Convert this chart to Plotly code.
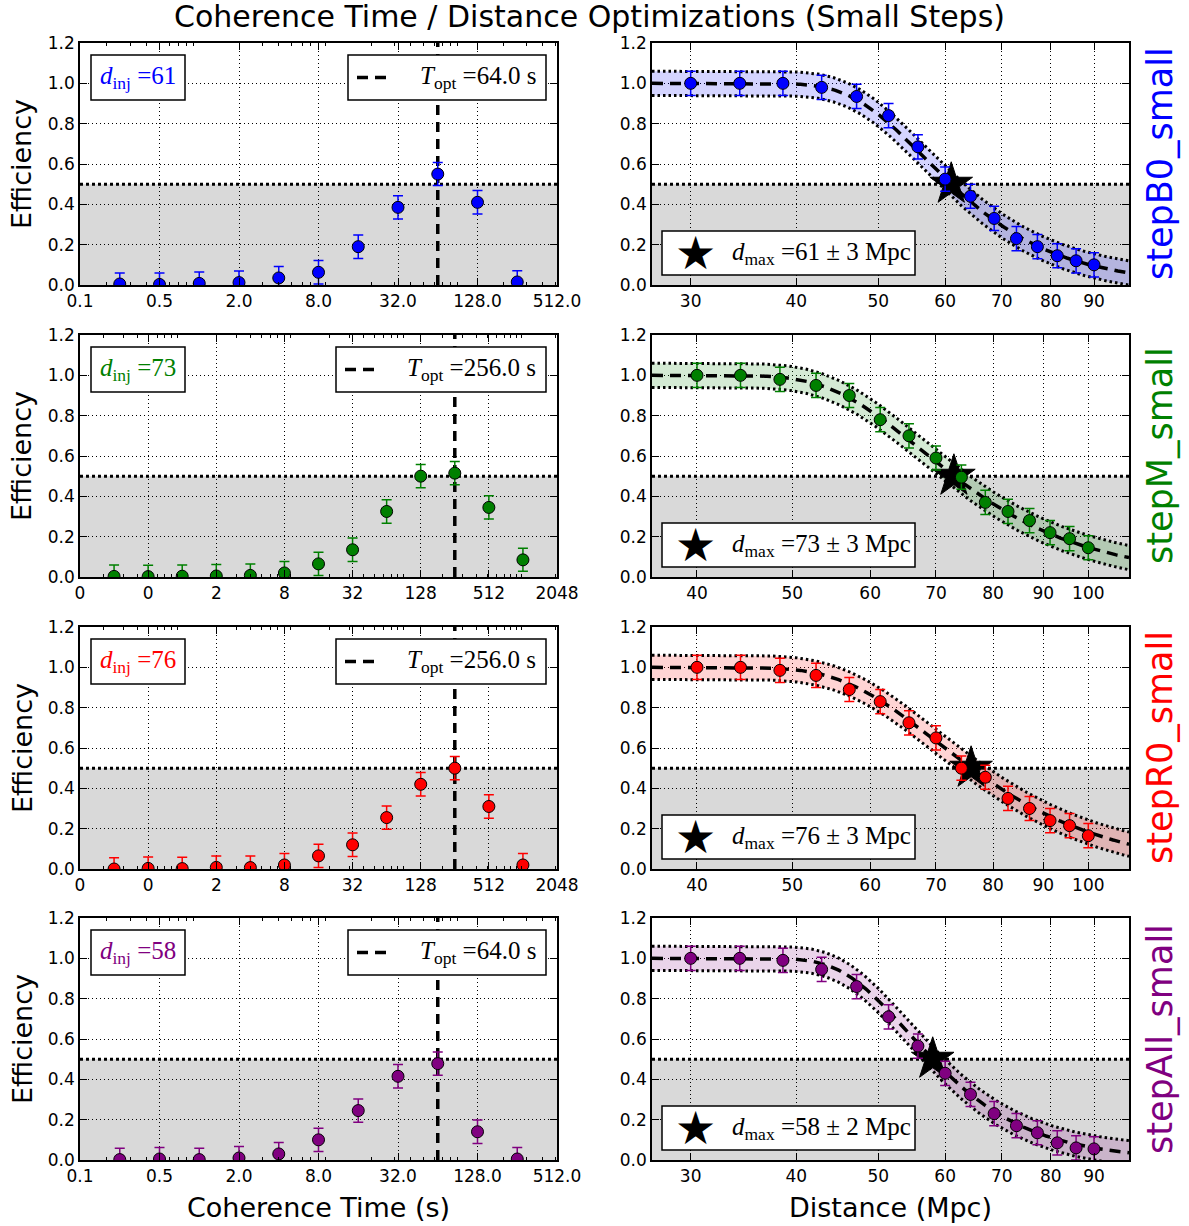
import numpy as np
import plotly.graph_objects as go

# ---------------- data ----------------
run_names = ["stepB0_small", "stepM_small", "stepR0_small", "stepAll_small"]
run_colors = ["#0000ff", "#008000", "#ff0000", "#800080"]

coh_times_short = [0.25, 0.5, 1, 2, 4, 8, 16, 32, 64, 128, 256]
coh_times_long = [0.25, 0.5, 1, 2, 4, 8, 16, 32, 64, 128, 256, 512, 1024]

eff_coh_B0 = [0.005, 0.003, 0.008, 0.012, 0.035, 0.063, 0.19, 0.385, 0.55, 0.41, 0.015]
err_coh_B0 = [0.055, 0.056, 0.056, 0.057, 0.057, 0.058, 0.058, 0.058, 0.057, 0.058, 0.056]
eff_coh_M = [0.003, 0.002, 0.004, 0.005, 0.008, 0.02, 0.065, 0.135, 0.325, 0.50, 0.515, 0.345, 0.085]
err_coh_M = [0.056, 0.056, 0.056, 0.057, 0.057, 0.057, 0.058, 0.058, 0.058, 0.058, 0.058, 0.058, 0.057]
eff_coh_R0 = [0.0, 0.003, 0.002, 0.008, 0.007, 0.02, 0.065, 0.12, 0.255, 0.42, 0.50, 0.31, 0.02]
err_coh_R0 = [0.056, 0.056, 0.056, 0.057, 0.057, 0.057, 0.058, 0.058, 0.058, 0.058, 0.058, 0.058, 0.057]
eff_coh_All = [0.002, 0.005, 0.002, 0.01, 0.03, 0.10, 0.245, 0.415, 0.478, 0.14, 0.005]
err_coh_All = [0.056, 0.057, 0.056, 0.057, 0.057, 0.058, 0.058, 0.058, 0.058, 0.058, 0.057]

coh_tick_vals_short = [0.125, 0.5, 2, 8, 32, 128, 512]
coh_tick_text_short = ["0.1", "0.5", "2.0", "8.0", "32.0", "128.0", "512.0"]
coh_tick_vals_long = [0.125, 0.5, 2, 8, 32, 128, 512, 2048]
coh_tick_text_long = ["0", "0", "2", "8", "32", "128", "512", "2048"]
coh_minor_ticks = [0.2, 0.3, 0.4, 0.6, 0.7, 0.8, 0.9, 3, 4, 5, 6, 7, 9,
                   20, 30, 40, 50, 60, 70, 80, 90, 200, 300, 400, 500, 600, 700, 800, 900,
                   1000, 2000]

t_opt = [64.0, 256.0, 256.0, 64.0]
d_inj = [61, 73, 76, 58]

dist_30_90 = [30.0, 34.29, 38.57, 42.86, 47.14, 51.43, 55.71, 60.0, 64.29, 68.57, 72.86, 77.14, 81.43, 85.71, 90.0]
dist_40_100 = [40.0, 44.29, 48.57, 52.86, 57.14, 61.43, 65.71, 70.0, 74.29, 78.57, 82.86, 87.14, 91.43, 95.71, 100.0]

eff_dist_B0 = [1.0, 1.0, 1.0, 0.98, 0.935, 0.84, 0.685, 0.525, 0.44, 0.33, 0.23, 0.19, 0.145, 0.12, 0.10]
eff_dist_M = [1.0, 1.0, 0.98, 0.95, 0.90, 0.78, 0.70, 0.59, 0.495, 0.37, 0.325, 0.28, 0.22, 0.19, 0.145]
eff_dist_R0 = [1.0, 1.0, 0.985, 0.96, 0.89, 0.83, 0.725, 0.65, 0.50, 0.455, 0.35, 0.30, 0.24, 0.215, 0.165]
eff_dist_All = [1.0, 1.0, 0.99, 0.945, 0.86, 0.71, 0.565, 0.43, 0.325, 0.23, 0.17, 0.135, 0.085, 0.06, 0.055]
err_dist = [0.06, 0.06, 0.06, 0.06, 0.06, 0.06, 0.06, 0.06, 0.06, 0.06, 0.06, 0.06, 0.06, 0.06, 0.06]

dist_ticks_30_90 = [30, 40, 50, 60, 70, 80, 90]
dist_ticks_40_100 = [40, 50, 60, 70, 80, 90, 100]

d_max = [61, 73, 76, 58]
d_max_err = [3, 3, 3, 2]
fit_slope = [5.0, 4.7, 4.5, 5.5]
fit_band = 0.06

coh_x = [coh_times_short, coh_times_long, coh_times_long, coh_times_short]
coh_eff = [eff_coh_B0, eff_coh_M, eff_coh_R0, eff_coh_All]
coh_err = [err_coh_B0, err_coh_M, err_coh_R0, err_coh_All]
coh_tv = [coh_tick_vals_short, coh_tick_vals_long, coh_tick_vals_long, coh_tick_vals_short]
coh_tt = [coh_tick_text_short, coh_tick_text_long, coh_tick_text_long, coh_tick_text_short]
dist_x = [dist_30_90, dist_40_100, dist_40_100, dist_30_90]
dist_eff = [eff_dist_B0, eff_dist_M, eff_dist_R0, eff_dist_All]
dist_tv = [dist_ticks_30_90, dist_ticks_40_100, dist_ticks_40_100, dist_ticks_30_90]

# ---------------- layout geometry ----------------
W, H = 1189, 1226
L_X0, L_X1 = 80, 557
R_X0, R_X1 = 652, 1129
PW = 477
ROW_TOP = [43, 335, 627, 918]
ROW_H = 242

SANS = "DejaVu Sans"
SERIF = "Liberation Serif"


def PX(x):
    return x / W


def PY(y):
    return 1 - y / H


def rgba(hexcol, a):
    h = hexcol.lstrip("#")
    return "rgba(%d,%d,%d,%s)" % (int(h[0:2], 16), int(h[2:4], 16), int(h[4:6], 16), a)


fig = go.Figure()
layout = dict(
    width=W, height=H, margin=dict(l=0, r=0, t=0, b=0, pad=0, autoexpand=False),
    paper_bgcolor="white", plot_bgcolor="white", showlegend=False,
)
shapes = []
annotations = []

axis_common = dict(
    showline=True, linecolor="black", linewidth=1.5, mirror="allticks",
    ticks="inside", ticklen=7, tickwidth=1, tickcolor="black",
    showgrid=True, gridcolor="black", gridwidth=1, griddash="1px,3px",
    zeroline=False, automargin=False,
    tickfont=dict(family=SANS, size=17, color="black"),
)

for r in range(4):
    col = run_colors[r]
    top = ROW_TOP[r]
    bot = top + ROW_H
    ydom = [PY(bot), PY(top)]
    li, ri = 2 * r + 1, 2 * r + 2
    lx, ly = ("x", "y") if li == 1 else ("x%d" % li, "y%d" % li)
    rx, ry = "x%d" % ri, "y%d" % ri
    lkx = "xaxis" if li == 1 else "xaxis%d" % li
    lky = "yaxis" if li == 1 else "yaxis%d" % li
    rkx, rky = "xaxis%d" % ri, "yaxis%d" % ri

    # ---- left (coherence time) axes ----
    cmax = coh_tv[r][-1]
    layout[lkx] = dict(axis_common, type="log", domain=[PX(L_X0), PX(L_X1)], anchor=ly,
                       range=[np.log10(0.125), np.log10(cmax)],
                       tickvals=coh_tv[r], ticktext=coh_tt[r],
                       minor=dict(tickvals=[v for v in coh_minor_ticks if v < cmax],
                                  ticks="inside", ticklen=3.5, tickwidth=1,
                                  tickcolor="black", showgrid=False))
    layout[lky] = dict(axis_common, domain=ydom, anchor=lx, range=[0, 1.2],
                       tickvals=[0, 0.2, 0.4, 0.6, 0.8, 1.0, 1.2],
                       ticktext=["0.0", "0.2", "0.4", "0.6", "0.8", "1.0", "1.2"])
    # ---- right (distance) axes ----
    dmin_ax = dist_x[r][0] * 0.9
    dmax_ax = dist_x[r][-1] * 1.1
    layout[rkx] = dict(axis_common, type="log", domain=[PX(R_X0), PX(R_X1)], anchor=ry,
                       range=[np.log10(dmin_ax), np.log10(dmax_ax)],
                       tickvals=dist_tv[r], ticktext=[str(v) for v in dist_tv[r]])
    layout[rky] = dict(axis_common, domain=ydom, anchor=rx, range=[0, 1.2],
                       tickvals=[0, 0.2, 0.4, 0.6, 0.8, 1.0, 1.2],
                       ticktext=["0.0", "0.2", "0.4", "0.6", "0.8", "1.0", "1.2"])

    # gray region below 0.5 and dotted 0.5 line, both panels
    for xr, yr in ((lx, ly), (rx, ry)):
        shapes.append(dict(type="rect", xref=xr + " domain", yref=yr, x0=0, x1=1, y0=0, y1=0.5,
                           fillcolor="rgb(217,217,217)", line=dict(width=0), layer="below"))
        shapes.append(dict(type="line", xref=xr + " domain", yref=yr, x0=0, x1=1, y0=0.5, y1=0.5,
                           line=dict(color="black", width=3, dash="3px,3px"), layer="below"))

    # ---- left panel traces ----
    fig.add_trace(go.Scatter(x=[t_opt[r], t_opt[r]], y=[0, 1.2], mode="lines", xaxis=lx, yaxis=ly,
                             line=dict(color="black", width=3.5, dash="10px,7px"), hoverinfo="skip"))
    fig.add_trace(go.Scatter(
        x=coh_x[r], y=coh_eff[r], mode="markers", xaxis=lx, yaxis=ly,
        marker=dict(size=12, color=col, line=dict(color="black", width=1)),
        error_y=dict(type="data", array=coh_err[r], color=col, thickness=1.5, width=5)))

    # ---- right panel traces ----
    d_fit = np.geomspace(dmin_ax, dmax_ax, 300)
    e_fit = 1 - np.exp(-np.log(2) * (d_max[r] / d_fit) ** fit_slope[r])
    fig.add_trace(go.Scatter(x=d_fit, y=e_fit - fit_band, mode="lines", xaxis=rx, yaxis=ry,
                             line=dict(color="black", width=3, dash="2.5px,3px"), hoverinfo="skip"))
    fig.add_trace(go.Scatter(x=d_fit, y=e_fit + fit_band, mode="lines", xaxis=rx, yaxis=ry,
                             fill="tonexty", fillcolor=rgba(col, 0.17),
                             line=dict(color="black", width=3, dash="2.5px,3px"), hoverinfo="skip"))
    fig.add_trace(go.Scatter(x=d_fit, y=e_fit, mode="lines", xaxis=rx, yaxis=ry,
                             line=dict(color="black", width=3.5, dash="11px,7px"), hoverinfo="skip"))
    fig.add_trace(go.Scatter(x=[d_max[r]], y=[0.5], mode="markers", xaxis=rx, yaxis=ry,
                             marker=dict(symbol="star", size=32, color="black",
                                         line=dict(color="black", width=1))))
    fig.add_trace(go.Scatter(
        x=dist_x[r], y=dist_eff[r], mode="markers", xaxis=rx, yaxis=ry,
        marker=dict(size=12, color=col, line=dict(color="black", width=1)),
        error_y=dict(type="data", array=err_dist, color=col, thickness=1.5, width=5)))

    # ---- legend boxes ----
    box_top = 1 - 12 / ROW_H
    box_bot = 1 - 57 / ROW_H
    # d_inj box (left)
    shapes.append(dict(type="rect", xref=lx + " domain", yref=ly + " domain",
                       x0=(91 - L_X0) / PW, x1=(185 - L_X0) / PW, y0=box_bot, y1=box_top,
                       fillcolor="white", line=dict(color="black", width=1.5), layer="above"))
    annotations.append(dict(xref=lx + " domain", yref=ly + " domain",
                            x=(138 - L_X0) / PW, y=(box_top + box_bot) / 2,
                            text="<i>d</i><sub>inj</sub> =%d" % d_inj[r], showarrow=False,
                            font=dict(family=SERIF, size=25, color=col),
                            xanchor="center", yanchor="middle"))
    # T_opt box (left)
    bx0 = 348 if t_opt[r] < 100 else 336
    shapes.append(dict(type="rect", xref=lx + " domain", yref=ly + " domain",
                       x0=(bx0 - L_X0) / PW, x1=(546 - L_X0) / PW, y0=box_bot, y1=box_top,
                       fillcolor="white", line=dict(color="black", width=1.5), layer="above"))
    shapes.append(dict(type="line", xref=lx + " domain", yref=ly + " domain",
                       x0=(bx0 + 9 - L_X0) / PW, x1=(bx0 + 44 - L_X0) / PW,
                       y0=(box_top + box_bot) / 2, y1=(box_top + box_bot) / 2,
                       line=dict(color="black", width=3.5, dash="11px,7px"), layer="above"))
    annotations.append(dict(xref=lx + " domain", yref=ly + " domain",
                            x=(538 - L_X0) / PW, y=(box_top + box_bot) / 2,
                            text="<i>T</i><sub>opt</sub> =%.1f s" % t_opt[r], showarrow=False,
                            font=dict(family=SERIF, size=25, color="black"),
                            xanchor="right", yanchor="middle"))
    # d_max box (right)
    sb_top = 54 / ROW_H
    sb_bot = 10 / ROW_H
    shapes.append(dict(type="rect", xref=rx + " domain", yref=ry + " domain",
                       x0=(662 - R_X0) / PW, x1=(915 - R_X0) / PW, y0=sb_bot, y1=sb_top,
                       fillcolor="white", line=dict(color="black", width=1.5), layer="above"))
    annotations.append(dict(xref=rx + " domain", yref=ry + " domain",
                            x=(695 - R_X0) / PW, y=(sb_top + sb_bot) / 2,
                            text="★", showarrow=False,
                            font=dict(family=SANS, size=46, color="black"),
                            xanchor="center", yanchor="middle"))
    annotations.append(dict(xref=rx + " domain", yref=ry + " domain",
                            x=(821 - R_X0) / PW, y=(sb_top + sb_bot) / 2,
                            text="<i>d</i><sub>max</sub> =%d ± %d Mpc" % (d_max[r], d_max_err[r]),
                            showarrow=False, font=dict(family=SERIF, size=25, color="black"),
                            xanchor="center", yanchor="middle"))

    # ---- row labels ----
    ymid = PY(top + ROW_H / 2)
    annotations.append(dict(xref="paper", yref="paper", x=PX(22), y=ymid, text="Efficiency",
                            textangle=-90, showarrow=False,
                            font=dict(family=SANS, size=27, color="black"),
                            xanchor="center", yanchor="middle"))
    annotations.append(dict(xref="paper", yref="paper", x=PX(1160), y=ymid, text=run_names[r],
                            textangle=-90, showarrow=False,
                            font=dict(family=SANS, size=35, color=col),
                            xanchor="center", yanchor="middle"))

# titles
annotations.append(dict(xref="paper", yref="paper", x=PX(589), y=PY(17),
                        text="Coherence Time / Distance Optimizations (Small Steps)",
                        showarrow=False, font=dict(family=SANS, size=30, color="black"),
                        xanchor="center", yanchor="middle"))
annotations.append(dict(xref="paper", yref="paper", x=PX((L_X0 + L_X1) / 2), y=PY(1207),
                        text="Coherence Time (s)", showarrow=False,
                        font=dict(family=SANS, size=27, color="black"),
                        xanchor="center", yanchor="middle"))
annotations.append(dict(xref="paper", yref="paper", x=PX((R_X0 + R_X1) / 2), y=PY(1207),
                        text="Distance (Mpc)", showarrow=False,
                        font=dict(family=SANS, size=27, color="black"),
                        xanchor="center", yanchor="middle"))

layout["shapes"] = shapes
layout["annotations"] = annotations
fig.update_layout(**layout)
fig.write_html("out.html", config={"displayModeBar": False},
               post_script="document.body.style.margin='0';document.body.style.overflow='hidden';")
